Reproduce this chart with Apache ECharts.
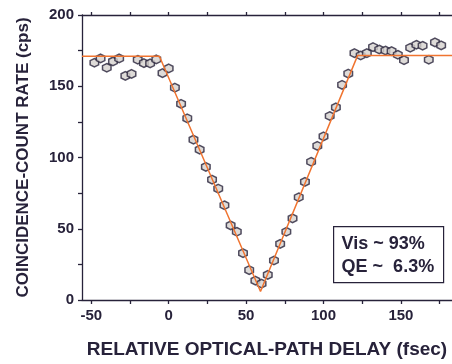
<!DOCTYPE html>
<html>
<head>
<meta charset="utf-8">
<script src="https://cdn.jsdelivr.net/npm/echarts@6/dist/echarts.min.js"></script>
<style>
  html, body { margin: 0; padding: 0; background: #fff; }
  #chart { width: 452px; height: 364px; }
</style>
</head>
<body>
<div id="chart"></div>
<script>
// measured delays (fsec)
var delays = [-48, -44, -40, -36, -32, -28, -24, -20, -16, -12, -8, -4, 0, 4, 8, 12, 16, 20,
  24, 28, 32, 36, 40, 44, 48, 52, 56, 60, 64, 68, 72, 76, 80, 84, 88, 92, 96, 100,
  104, 108, 112, 116, 120, 124, 128, 132, 136, 140, 144, 148, 152, 156, 160, 164, 168, 172, 176];
// coincidence counts (cps)
var counts = [166.5, 169.5, 163, 167.4, 169.5, 157.3, 158.7, 168.6, 166.2, 166, 168.8, 159.2, 162.5, 149, 137.6, 127.5, 112.5, 105.5,
  93.4, 84.5, 78.2, 66.5, 52.4, 47.9, 32.9, 21, 13.6, 11.5, 17.6, 27.7, 39.4, 47.9, 57.3, 72.1, 82.9, 97, 108.2, 114.8,
  129.1, 135.2, 151, 158.9, 173.2, 171.6, 173.2, 177.5, 175.8, 175.1, 174.6, 172.1, 168.3, 177, 179.1, 178.4, 168.6, 180.8, 178.7];
// piecewise-linear fit
var fitX = [-56, -6, 59.3, 122, 183];
var fitY = [171, 171, 6, 171.5, 171.5];

var xLabelVals = [-50, 0, 50, 100, 150];
var xTickVals = [-50, -25, 0, 25, 50, 75, 100, 125, 150, 175];
var yLabelVals = [0, 50, 100, 150, 200];
var yTickVals = [0, 25, 50, 75, 100, 125, 150, 175, 200];

var ink = '#27223a';
var font = '"Liberation Sans", Arial, sans-serif';

var chart = echarts.init(document.getElementById('chart'));

// hexagon marker, pointy top
var hexagon = 'path://M5,0 L9.33,2.5 L9.33,7.5 L5,10 L0.67,7.5 L0.67,2.5 Z';

var option = {
    animation: false,
    grid: { left: 82, right: 0, top: 15, bottom: 64 },
    xAxis: [{
        type: 'value',
        min: -56,
        max: 183,
        position: 'bottom',
        name: 'RELATIVE OPTICAL-PATH DELAY (fsec)',
        nameLocation: 'middle',
        nameGap: 40,
        nameTextStyle: { color: ink, fontFamily: font, fontWeight: 'bold', fontSize: 19 },
        axisLine: { onZero: false, lineStyle: { color: ink, width: 1.3 } },
        axisTick: { customValues: xTickVals, length: 4, lineStyle: { color: ink, width: 1.3 } },
        axisLabel: { customValues: xLabelVals, margin: 8, color: ink, fontFamily: font, fontWeight: 'bold', fontSize: 15 },
        splitLine: { show: false }
    }, {
        type: 'value',
        min: -56,
        max: 183,
        position: 'top',
        axisLine: { onZero: false, lineStyle: { color: ink, width: 1.3 } },
        axisTick: { customValues: xTickVals, length: 3, lineStyle: { color: ink, width: 1.3 } },
        axisLabel: { show: false },
        splitLine: { show: false }
    }],
    yAxis: {
        type: 'value',
        min: 0,
        max: 200,
        name: 'COINCIDENCE-COUNT RATE (cps)',
        nameLocation: 'middle',
        nameGap: 50,
        nameTextStyle: { color: ink, fontFamily: font, fontWeight: 'bold', fontSize: 17 },
        axisLine: { show: true, onZero: false, lineStyle: { color: ink, width: 1.3 } },
        axisTick: { show: true, customValues: yTickVals, length: 4, lineStyle: { color: ink, width: 1.3 } },
        axisLabel: { customValues: yLabelVals, margin: 8, color: ink, fontFamily: font, fontWeight: 'bold', fontSize: 15 },
        splitLine: { show: false }
    },
    series: [{
        name: 'data',
        type: 'scatter',
        data: delays.map(function (d, i) { return [d, counts[i]]; }),
        symbol: hexagon,
        symbolSize: 8.5,
        itemStyle: { color: '#d6d2ce', borderColor: ink, borderWidth: 1.5 },
        z: 2
    }, {
        name: 'fit',
        type: 'line',
        data: fitX.map(function (d, i) { return [d, fitY[i]]; }),
        showSymbol: false,
        lineStyle: { color: '#f07430', width: 1.5 },
        z: 3
    }],
    graphic: [{
        type: 'group',
        left: 333,
        top: 226,
        children: [{
            type: 'rect',
            shape: { x: 0, y: 0, width: 110, height: 56 },
            style: { fill: '#fff', stroke: ink, lineWidth: 1.2 }
        }, {
            type: 'text',
            x: 8,
            y: 8,
            style: { text: 'Vis ~ 93%', fill: ink, font: 'bold 18px ' + font }
        }, {
            type: 'text',
            x: 8,
            y: 31,
            style: { text: 'QE ~  6.3%', fill: ink, font: 'bold 18px ' + font }
        }]
    }]
};

chart.setOption(option);
</script>
</body>
</html>
